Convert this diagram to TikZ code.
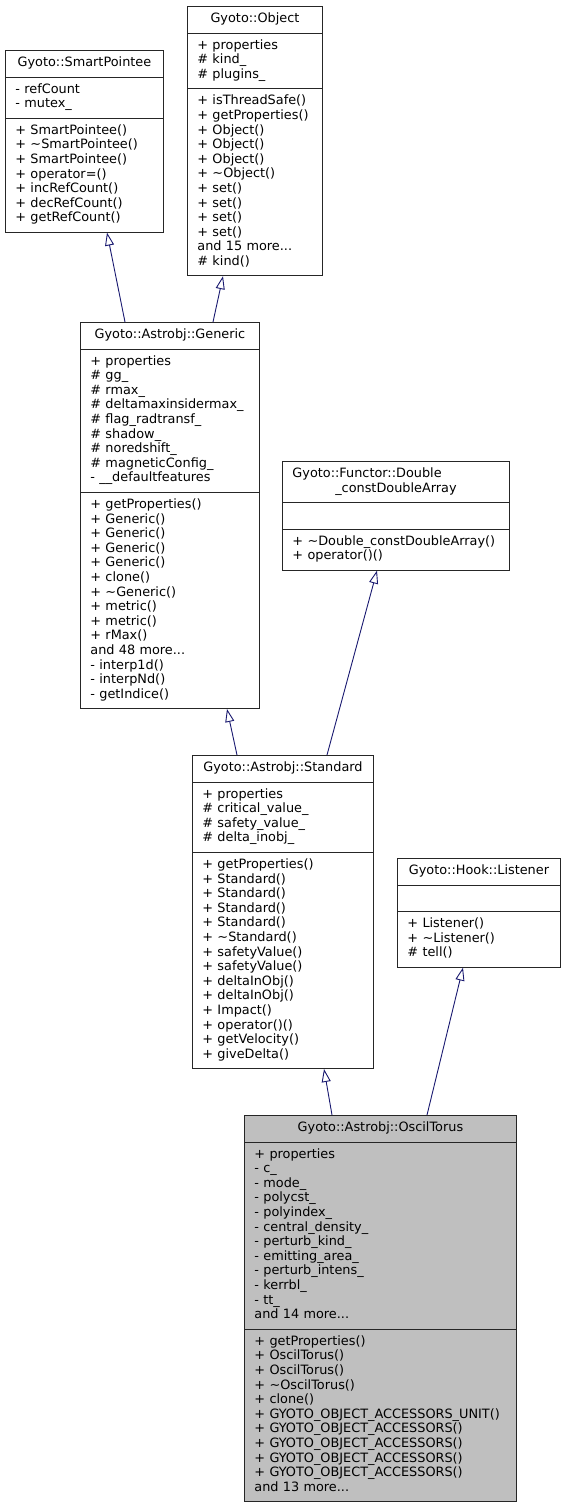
\documentclass[tikz,border=0pt]{standalone}
\usepackage{fontspec}
\setmainfont{DejaVu Sans}
\usetikzlibrary{shapes.multipart,arrows.meta}

\definecolor{bleunuit}{RGB}{25,25,112}

\tikzset{classe/.style = {rectangle split, rectangle split parts=3, anchor=north west,
                          draw=black!85, line width=0.9pt, fill=white,
                          text width=#1, align=left, inner xsep=10pt, inner ysep=5.5pt,
                          font=\fontsize{12.85}{14.6}\selectfont
                         },
         classe/.default=140pt,
         herite/.style = {draw=bleunuit, line width=0.9pt,
                          -{Triangle[open, length=13pt, width=9pt, fill=white]}}
        }

\newcommand{\titre}[1]{\centering\strut #1\strut\par}
\newcommand{\membres}[1]{\strut #1\strut}

\begin{document}
\begin{tikzpicture}[x=1pt, y=1pt]
  \useasboundingbox (0,0) rectangle (565,-1505);

  \node[classe=138pt] (smartp) at (5,-50) {\titre{Gyoto::SmartPointee}
    \nodepart{two}\membres{- refCount\\- mutex\_}
    \nodepart{three}\membres{+ SmartPointee()\\+ \textasciitilde SmartPointee()\\+ SmartPointee()\\
      + operator=()\\+ incRefCount()\\+ decRefCount()\\+ getRefCount()}};

  \node[classe=115pt] (object) at (187,-6) {\titre{Gyoto::Object}
    \nodepart{two}\membres{+ properties\\\# kind\_\\\# plugins\_}
    \nodepart{three}\membres{+ isThreadSafe()\\+ getProperties()\\+ Object()\\+ Object()\\+ Object()\\
      + \textasciitilde Object()\\+ set()\\+ set()\\+ set()\\+ set()\\and 15 more...\\\# kind()}};

  \node[classe=159pt] (generic) at (80,-322) {\titre{Gyoto::Astrobj::Generic}
    \nodepart{two}\membres{+ properties\\\# gg\_\\\# rmax\_\\\# deltamaxinsidermax\_\\\# flag\_radtransf\_\\
      \# shadow\_\\\# noredshift\_\\\# magneticConfig\_\\- \_\_defaultfeatures}
    \nodepart{three}\membres{+ getProperties()\\+ Generic()\\+ Generic()\\+ Generic()\\+ Generic()\\
      + clone()\\+ \textasciitilde Generic()\\+ metric()\\+ metric()\\+ rMax()\\and 48 more...\\
      - interp1d()\\- interpNd()\\- getIndice()}};

  \node[classe=207pt] (functor) at (282,-461) {\strut Gyoto::Functor::Double\par
    \centering\_constDoubleArray\strut\par
    \nodepart{two}\membres{}
    \nodepart{three}\membres{+ \textasciitilde Double\_constDoubleArray()\\+ operator()()}};

  \node[classe=161pt] (standard) at (192,-755) {\titre{Gyoto::Astrobj::Standard}
    \nodepart{two}\membres{+ properties\\\# critical\_value\_\\\# safety\_value\_\\\# delta\_inobj\_}
    \nodepart{three}\membres{+ getProperties()\\+ Standard()\\+ Standard()\\+ Standard()\\+ Standard()\\
      + \textasciitilde Standard()\\+ safetyValue()\\+ safetyValue()\\+ deltaInObj()\\+ deltaInObj()\\
      + Impact()\\+ operator()()\\+ getVelocity()\\+ giveDelta()}};

  \node[classe=143pt] (listener) at (397,-858) {\titre{Gyoto::Hook::Listener}
    \nodepart{two}\membres{}
    \nodepart{three}\membres{+ Listener()\\+ \textasciitilde Listener()\\\# tell()}};

  \node[classe=252pt, fill=black!25] (oscil) at (244,-1115) {\titre{Gyoto::Astrobj::OscilTorus}
    \nodepart{two}\membres{+ properties\\- c\_\\- mode\_\\- polycst\_\\- polyindex\_\\- central\_density\_\\
      - perturb\_kind\_\\- emitting\_area\_\\- perturb\_intens\_\\- kerrbl\_\\- tt\_\\and 14 more...}
    \nodepart{three}\membres{+ getProperties()\\+ OscilTorus()\\+ OscilTorus()\\+ \textasciitilde OscilTorus()\\
      + clone()\\+ GYOTO\_OBJECT\_ACCESSORS\_UNIT()\\+ GYOTO\_OBJECT\_ACCESSORS()\\
      + GYOTO\_OBJECT\_ACCESSORS()\\+ GYOTO\_OBJECT\_ACCESSORS()\\+ GYOTO\_OBJECT\_ACCESSORS()\\
      and 13 more...}};

  \draw[herite] ([xshift=45pt]generic.north west) -- ([xshift=102pt]smartp.south west);
  \draw[herite] ([xshift=133pt]generic.north west) -- ([xshift=36pt]object.south west);
  \draw[herite] ([xshift=45pt]standard.north west) -- ([xshift=147pt]generic.south west);
  \draw[herite] ([xshift=135pt]standard.north west) -- ([xshift=95pt]functor.south west);
  \draw[herite] ([xshift=88pt]oscil.north west) -- ([xshift=132pt]standard.south west);
  \draw[herite] ([xshift=183pt]oscil.north west) -- ([xshift=66pt]listener.south west);
\end{tikzpicture}
\end{document}
